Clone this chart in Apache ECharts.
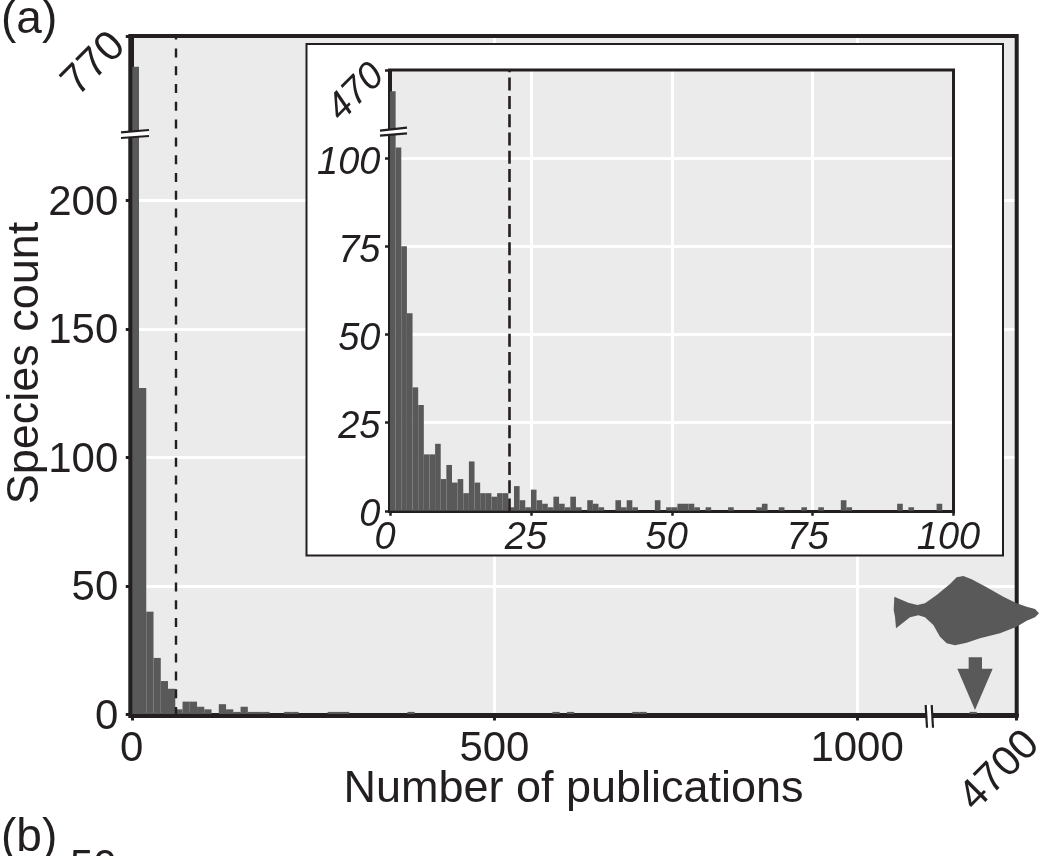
<!DOCTYPE html>
<html>
<head>
<meta charset="utf-8">
<style>html,body{margin:0;padding:0;background:#fff;overflow:hidden}#c{width:1044px;height:856px}</style>
<script src="https://cdn.jsdelivr.net/npm/echarts@6/dist/echarts.min.js"></script>
</head>
<body>
<div id="c"></div>
<script>
// ---------- data ----------
const mainBinWidth = 10;
const mainCounts = [758,127,40,22,13,10,2,5,5,3,2,0,4,2,1,3,1,1,1,0,0,1,1,0,0,0,0,1,1,1,0,0,0,0,0,0,0,0,1,0,0,0,0,0,0,0,0,0,0,0,0,0,0,0,0,0,0,0,1,0,1,0,0,0,0,0,0,0,0,1,1];
const outlierPublications = [4640];
const outlierCounts = [1];
const insetBinWidth = 1;
const insetCounts = [464,103,75,56,35,30,16,16,19,9,13,8,9,5,14,8,5,5,4,5,5,1,7,3,1,6,3,2,1,4,2,1,4,1,0,3,2,1,0,0,3,1,3,1,0,0,0,3,0,1,1,2,2,2,1,0,1,0,0,0,1,0,0,0,0,1,2,0,0,1,0,0,0,1,0,0,1,0,0,0,3,1,0,0,0,0,0,0,0,0,2,0,1,0,0,0,0,2,0,0];
const mainMedian = [60.5];
const insetMedian = [21.2];
const mainXTicks = [0,500,1000];
const mainXEnd = [4700];
const mainYTicks = [0,50,100,150,200];
const mainYTop = [770];
const insetXTicks = [0,25,50,75,100];
const insetYTicks = [0,25,50,75,100];
const insetYTop = [470];
const xLabel = 'Number of publications';
const yLabel = 'Species count';

// ---------- styles ----------
const INK = '#231f20', BAR = '#595959', PANEL = '#ebebeb';
const FONT = '"Liberation Sans", Arial, sans-serif';
const plain = v => String(v);
const mainFont = {color: INK, fontFamily: FONT, fontSize: 42};
const nameFont = {color: INK, fontFamily: FONT, fontSize: 45};
const insetFont = {color: INK, fontFamily: FONT, fontSize: 38, fontStyle: 'italic'};
const mainXBreak = [{start: 1100, end: 4580, gap: 0}];
const mainYBreak = [{start: 226, end: 732, gap: 0}];
const insetYBreak = [{start: 108, end: 453, gap: 0}];
const noBreakArea = {show: false};

const binned = (counts, w) => counts.map((v, i) => [i * w + w / 2, v]);
const xy = arr => arr.map(p => [p[0] / 3 + 840, p[1] / 3 + 560]);

function axis(common, extra) { return Object.assign({}, common, extra); }

const mainX = {type: 'value', gridIndex: 0, min: -2, max: 4700, breaks: mainXBreak, breakArea: noBreakArea, position: 'bottom', z: 1};
const mainY = {type: 'value', gridIndex: 0, min: -0.6, max: 770, breaks: mainYBreak, breakArea: noBreakArea, position: 'left', z: 1};
const insetX = {type: 'value', gridIndex: 1, min: -0.09, max: 100, position: 'bottom', z: 7};
const insetY = {type: 'value', gridIndex: 1, min: -0.2, max: 470, breaks: insetYBreak, breakArea: noBreakArea, position: 'left', z: 7};
const whiteLines = {show: true, showMaxLine: false, lineStyle: {color: '#fff', width: 3}};

const mainRect = {left: 130.3, top: 36, width: 886.4, height: 680};
const insetRect = {left: 389.5, top: 70, width: 564, height: 441.5};

const fish = xy([[163,110],[205,128],[232,135],[255,130],[290,105],[330,72],[350,52],[370,48],[395,58],[440,82],[490,110],[530,130],[560,140],[585,147],[597,160],[585,172],[560,182],[530,200],[480,220],[420,235],[380,248],[345,256],[320,250],[300,230],[280,195],[255,172],[235,166],[210,172],[168,205],[165,170],[161,150]]);
const arrow = xy([[386,292],[426,292],[426,326],[458,326],[405,450],[352,326],[386,326]]);

function breakMark(a1, a2, b1, b2) {
  return [
    {type: 'polygon', z: 20, silent: true, shape: {points: [a1, a2, b2, b1]}, style: {fill: '#fff'}},
    {type: 'line', z: 21, silent: true, shape: {x1: a1[0], y1: a1[1], x2: a2[0], y2: a2[1]}, style: {stroke: INK, lineWidth: 2.2}},
    {type: 'line', z: 21, silent: true, shape: {x1: b1[0], y1: b1[1], x2: b2[0], y2: b2[1]}, style: {stroke: INK, lineWidth: 2.2}}
  ];
}
const plainText = (x, y, text, size) => ({type: 'text', z: 30, silent: true, x, y, style: {text, fontFamily: FONT, fontSize: size, fill: INK, textVerticalAlign: 'top'}});
const frame = (r, w, z) => ({type: 'rect', z, silent: true, shape: {x: r.left, y: r.top, width: r.width, height: r.height}, style: {fill: 'none', stroke: INK, lineWidth: w}});

const option = {
  animation: false,
  backgroundColor: '#fff',
  grid: [
    Object.assign({show: true, backgroundColor: PANEL, borderWidth: 0, z: 0, outerBoundsMode: 'none', containLabel: false}, mainRect),
    Object.assign({show: true, backgroundColor: PANEL, borderWidth: 0, z: 7, outerBoundsMode: 'none', containLabel: false}, insetRect)
  ],
  xAxis: [
    axis(mainX, {
      axisLine: {lineStyle: {color: INK, width: 4}},
      axisTick: {customValues: mainXTicks.concat(mainXEnd), length: 6, lineStyle: {color: INK, width: 3}},
      axisLabel: Object.assign({customValues: mainXTicks, margin: 12, formatter: plain}, mainFont),
      splitLine: whiteLines,
      name: xLabel, nameLocation: 'middle', nameGap: 51, nameMoveOverlap: false, nameTextStyle: nameFont
    }),
    axis(mainX, {
      axisLine: {show: false}, axisTick: {show: false}, splitLine: {show: false},
      axisLabel: Object.assign({customValues: mainXEnd, rotate: 45, margin: 38, align: 'center', verticalAlign: 'middle', padding: [0, 48, 0, 0], formatter: plain}, mainFont)
    }),
    axis(insetX, {
      axisLine: {lineStyle: {color: INK, width: 3}},
      axisTick: {customValues: insetXTicks, length: 5, lineStyle: {color: INK, width: 2.5}},
      axisLabel: Object.assign({customValues: insetXTicks, margin: 8, padding: [0, 10, 0, 0], formatter: plain}, insetFont),
      splitLine: whiteLines
    })
  ],
  yAxis: [
    axis(mainY, {
      axisLine: {lineStyle: {color: INK, width: 4}},
      axisTick: {customValues: mainYTicks.concat(mainYTop), length: 6, lineStyle: {color: INK, width: 3}},
      axisLabel: Object.assign({customValues: mainYTicks, margin: 12, verticalAlign: 'top', lineHeight: 5, formatter: plain}, mainFont),
      splitLine: whiteLines,
      name: yLabel, nameLocation: 'middle', nameGap: 82, nameMoveOverlap: false, nameTextStyle: Object.assign({padding: [0, 0, 0, 26]}, nameFont)
    }),
    axis(mainY, {
      axisLine: {show: false}, axisTick: {show: false}, splitLine: {show: false},
      axisLabel: Object.assign({customValues: mainYTop, rotate: 45, margin: 8, padding: [0, 5, 0, 0], formatter: plain}, mainFont)
    }),
    axis(insetY, {
      axisLine: {lineStyle: {color: INK, width: 3}},
      axisTick: {customValues: insetYTicks.concat(insetYTop), length: 5, lineStyle: {color: INK, width: 2.5}},
      axisLabel: Object.assign({customValues: insetYTicks, margin: 9, verticalAlign: 'top', lineHeight: 10, formatter: plain}, insetFont),
      splitLine: whiteLines
    }),
    axis(insetY, {
      axisLine: {show: false}, axisTick: {show: false}, splitLine: {show: false},
      axisLabel: Object.assign({customValues: insetYTop, rotate: 45, margin: 11, formatter: plain}, insetFont)
    })
  ],
  series: [
    {type: 'bar', xAxisIndex: 0, yAxisIndex: 0, z: 2, silent: true, barWidth: 7.26,
      data: binned(mainCounts, mainBinWidth).concat(outlierPublications.map((x, i) => [x, outlierCounts[i]])),
      itemStyle: {color: BAR},
      markLine: {silent: true, symbol: 'none', z: 3, label: {show: false},
        lineStyle: {color: INK, type: [9, 8.8], width: 2.4},
        data: mainMedian.map(v => ({xAxis: v}))}},
    {type: 'bar', xAxisIndex: 2, yAxisIndex: 2, z: 8, silent: true, barWidth: 5.64,
      data: binned(insetCounts, insetBinWidth), itemStyle: {color: BAR},
      markLine: {silent: true, symbol: 'none', z: 9, label: {show: false},
        lineStyle: {color: INK, type: [13, 5.3], width: 2.6},
        data: insetMedian.map(v => ({xAxis: v}))}}
  ],
  graphic: {elements: [
    frame(mainRect, 4, 3),
    {type: 'rect', z: 6, silent: true, shape: {x: 306.5, y: 44, width: 696.5, height: 511.5}, style: {fill: '#fff', stroke: INK, lineWidth: 2}},
    frame(insetRect, 3, 7.5),
    ...breakMark([121, 132.3], [149, 130], [121, 138], [149, 136]),
    ...breakMark([380, 130.7], [407, 127.7], [380, 135.7], [407, 133.3]),
    ...breakMark([925.7, 705], [927, 727.7], [931.7, 705], [933, 727.7]),
    {type: 'polygon', z: 25, silent: true, shape: {points: fish}, style: {fill: BAR}},
    {type: 'polygon', z: 25, silent: true, shape: {points: arrow}, style: {fill: BAR}},
    plainText(1, -3, '(a)', 46),
    plainText(1, 815, '(b)', 46),
    plainText(70, 846, '50', 42)
  ]}
};
const chart = echarts.init(document.getElementById('c'), null, {renderer: 'canvas'});
chart.setOption(option);
</script>
</body>
</html>
